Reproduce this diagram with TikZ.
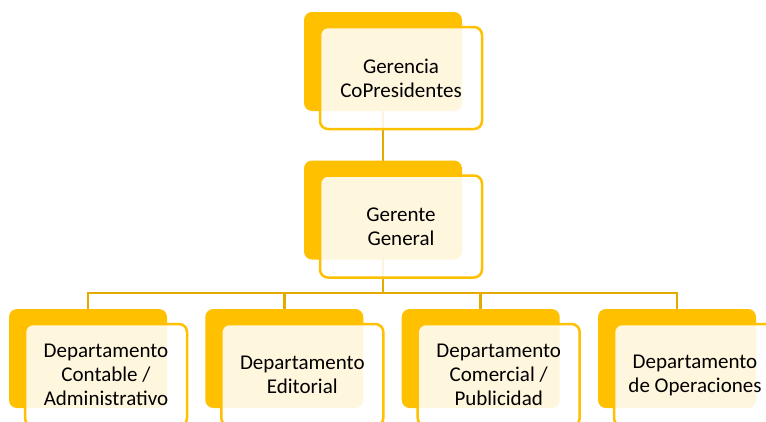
\documentclass[tikz,border=0pt]{standalone}
\usepackage{fontspec}
\usetikzlibrary{calc}
\setmainfont{Carlito}
\definecolor{gold}{HTML}{FFC000}
\definecolor{linegold}{HTML}{E3AA00}
\begin{document}
\begin{tikzpicture}[x=1pt,y=-1pt,
  backbox/.style={fill=gold, draw=none, rounded corners=8pt, minimum width=158pt, minimum height=99pt, inner sep=0pt},
  frontbox/.style={fill=white, fill opacity=0.87, text opacity=1, draw=gold, line width=2.5pt, rounded corners=8pt, minimum width=162pt, minimum height=102pt, inner sep=0pt, align=center, font=\fontsize{21}{24}\selectfont},
  conn/.style={draw=linegold, line width=2.6pt}]
\clip (0,0) rectangle (766,421);
\fill[white] (0,0) rectangle (766,421);
% back boxes (positions)
\coordinate (topc) at (383,61.5);
\coordinate (midc) at (383,210);
\coordinate (c1) at (88,358.5);
\coordinate (c2) at (284.3,358.5);
\coordinate (c3) at (480.7,358.5);
\coordinate (c4) at (677,358.5);
\coordinate (bus) at (383,293);
% connectors
\draw[conn] (topc) -- (midc);
\draw[conn] (midc) -- (bus);
\draw[conn] (c1) |- (bus) -| (c4);
\draw[conn] (c2) -- (c2 |- bus);
\draw[conn] (c3) -- (c3 |- bus);
% boxes
\node[backbox] (topb) at (topc) {};
\node[frontbox] (top) at ($(topc)+(18,16.5)$) {Gerencia\\CoPresidentes};
\node[backbox] (midb) at (midc) {};
\node[frontbox] (mid) at ($(midc)+(18,16.5)$) {Gerente\\General};
\node[backbox] (b1b) at (c1) {};
\node[frontbox] (b1) at ($(c1)+(18,16.5)$) {Departamento\\Contable /\\Administrativo};
\node[backbox] (b2b) at (c2) {};
\node[frontbox] (b2) at ($(c2)+(18,16.5)$) {Departamento\\Editorial};
\node[backbox] (b3b) at (c3) {};
\node[frontbox] (b3) at ($(c3)+(18,16.5)$) {Departamento\\Comercial /\\Publicidad};
\node[backbox] (b4b) at (c4) {};
\node[frontbox] (b4) at ($(c4)+(18,16.5)$) {Departamento\\de Operaciones};
\end{tikzpicture}
\end{document}
